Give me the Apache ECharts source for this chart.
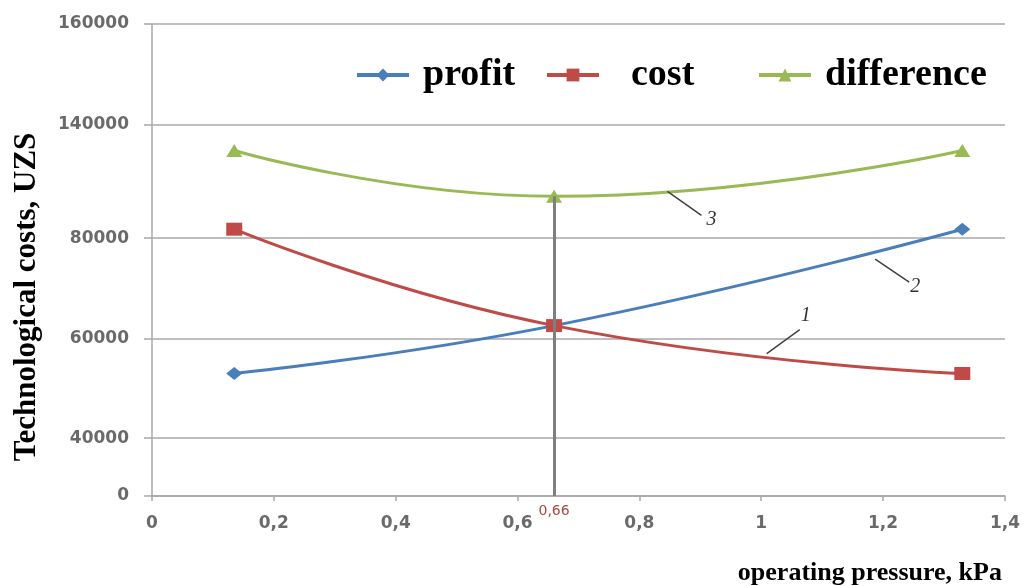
<!DOCTYPE html>
<html>
<head>
<meta charset="utf-8">
<script src="https://cdn.jsdelivr.net/npm/echarts@6/dist/echarts.min.js"></script>
<style>
html,body{margin:0;padding:0;background:#fff;}
#chart{width:1023px;height:586px;}
</style>
</head>
<body>
<div id="chart"></div>
<script>
// ---- data ----
const pressure = [0.135, 0.66, 1.33];
const profit = [53000, 62600, 84700];
const cost = [84700, 62600, 53000];
const difference = [126300, 102100, 126300];
const yTickValues = [0, 40000, 60000, 80000, 140000, 160000];
const optimumPressure = 0.66;
const curveNumbers = ['1', '2', '3'];
const curveNumberAnchors = [[1.009, 57000], [1.187, 75840], [0.846, 104750]];

// ---- layout of the (non-uniform) value axis: share of plot height per tick ----
const tickShare = [0, 0.1224, 0.3333, 0.5464, 0.7869, 1];
function toAxis(v) {
  for (let i = 1; i < yTickValues.length; i++) {
    if (v <= yTickValues[i] || i === yTickValues.length - 1) {
      const a = yTickValues[i - 1], b = yTickValues[i];
      return tickShare[i - 1] + (v - a) / (b - a) * (tickShare[i] - tickShare[i - 1]);
    }
  }
}
function pairs(vals) { return pressure.map((x, i) => [x, toAxis(vals[i])]); }
const comma = v => String(v).replace('.', ',');

const chart = echarts.init(document.getElementById('chart'));
const serif = '"Liberation Serif", "Times New Roman", serif';
const gray = '#a8a8a8';
const labelStyle = {color: '#6a6a6a', fontFamily: '"DejaVu Sans", Verdana, sans-serif', fontWeight: 'bold', fontSize: 17};

function legend(name, left, pad) {
  return {
    data: [name], left: left, top: 51, itemWidth: 52, itemHeight: 16, selectedMode: false,
    lineStyle: {width: 4},
    textStyle: {fontFamily: serif, fontWeight: 'bold', fontSize: 38, color: '#000', padding: [0, 0, 0, pad]}
  };
}

const option = {
  backgroundColor: '#fff',
  animation: false,
  grid: {left: 152, right: 15, top: 24, bottom: 88},
  legend: [legend('profit', 350, 9), legend('cost', 540, 27), legend('difference', 752, 9)],
  xAxis: {
    type: 'value', min: 0, max: 1.4, interval: 0.2,
    name: 'operating pressure, kPa', nameLocation: 'end', nameGap: -3,
    nameTextStyle: {fontFamily: serif, fontWeight: 'bold', fontSize: 26, color: '#000', align: 'right', verticalAlign: 'top', padding: [64, 0, 0, 0]},
    axisLine: {lineStyle: {color: gray, width: 1.5}},
    axisTick: {show: true, inside: false, length: 5, lineStyle: {color: gray, width: 1.5}},
    splitLine: {show: false},
    axisLabel: Object.assign({margin: 19, formatter: v => comma(Number(v.toFixed(1)))}, labelStyle)
  },
  yAxis: {
    type: 'value', min: 0, max: 1,
    axisLine: {show: true, lineStyle: {color: gray, width: 1.5}},
    axisTick: {show: true, length: 8, customValues: tickShare, lineStyle: {color: gray, width: 1.5}},
    splitLine: {show: true, lineStyle: {color: gray, width: 1.5}},
    axisLabel: Object.assign({
      margin: 23, customValues: tickShare,
      formatter: v => {
        const i = tickShare.findIndex(t => Math.abs(t - v) < 1e-6);
        return i >= 0 ? String(yTickValues[i]) : '';
      }
    }, labelStyle)
  },
  series: [
    {
      name: 'profit', type: 'line', smooth: true, data: pairs(profit),
      symbol: 'diamond', symbolSize: [16, 13],
      lineStyle: {color: '#4a7ebb', width: 3}, itemStyle: {color: '#4a7ebb'}
    },
    {
      name: 'cost', type: 'line', smooth: true, data: pairs(cost),
      symbol: 'rect', symbolSize: [16, 13],
      lineStyle: {color: '#be4b48', width: 3}, itemStyle: {color: '#be4b48'}
    },
    {
      name: 'difference', type: 'line', smooth: true, data: pairs(difference),
      symbol: 'triangle', symbolSize: [16, 13],
      lineStyle: {color: '#98b954', width: 3}, itemStyle: {color: '#98b954'},
      markLine: {
        silent: true, symbol: ['none', 'none'],
        lineStyle: {color: '#7f7f7f', width: 3, type: 'solid'},
        label: {show: true, position: 'start', distance: 8, formatter: comma(optimumPressure),
                color: '#a84a40', fontFamily: '"DejaVu Sans", Verdana, sans-serif', fontSize: 14},
        data: [[{coord: [optimumPressure, toAxis(0)]},
                {coord: [optimumPressure, toAxis(difference[pressure.indexOf(optimumPressure)])]}]]
      }
    }
  ]
};
chart.setOption(option);

// curve numbers with leader lines, anchored on the curves in data space
const offsets = [[33, -24, 39, -38], [34, 23, 40, 28], [34, 24, 44, 28]];
const graphics = [{
  type: 'text', x: 27, y: 297, rotation: Math.PI / 2,
  style: {text: 'Technological costs, UZS', font: 'bold 31px ' + serif, fill: '#000',
          textAlign: 'center', textVerticalAlign: 'middle'}
}];
curveNumbers.forEach((t, i) => {
  const a = curveNumberAnchors[i];
  const p = chart.convertToPixel({gridIndex: 0}, [a[0], toAxis(a[1])]);
  const o = offsets[i];
  graphics.push({type: 'line', shape: {x1: p[0], y1: p[1], x2: p[0] + o[0], y2: p[1] + o[1]},
                 style: {stroke: '#404040', lineWidth: 1.5}, z: 10});
  graphics.push({type: 'text', x: p[0] + o[2], y: p[1] + o[3],
                 style: {text: t, font: 'italic 20px ' + serif, fill: '#333', textAlign: 'center', textVerticalAlign: 'middle'}, z: 10});
});
chart.setOption({graphic: graphics});
</script>
</body>
</html>
